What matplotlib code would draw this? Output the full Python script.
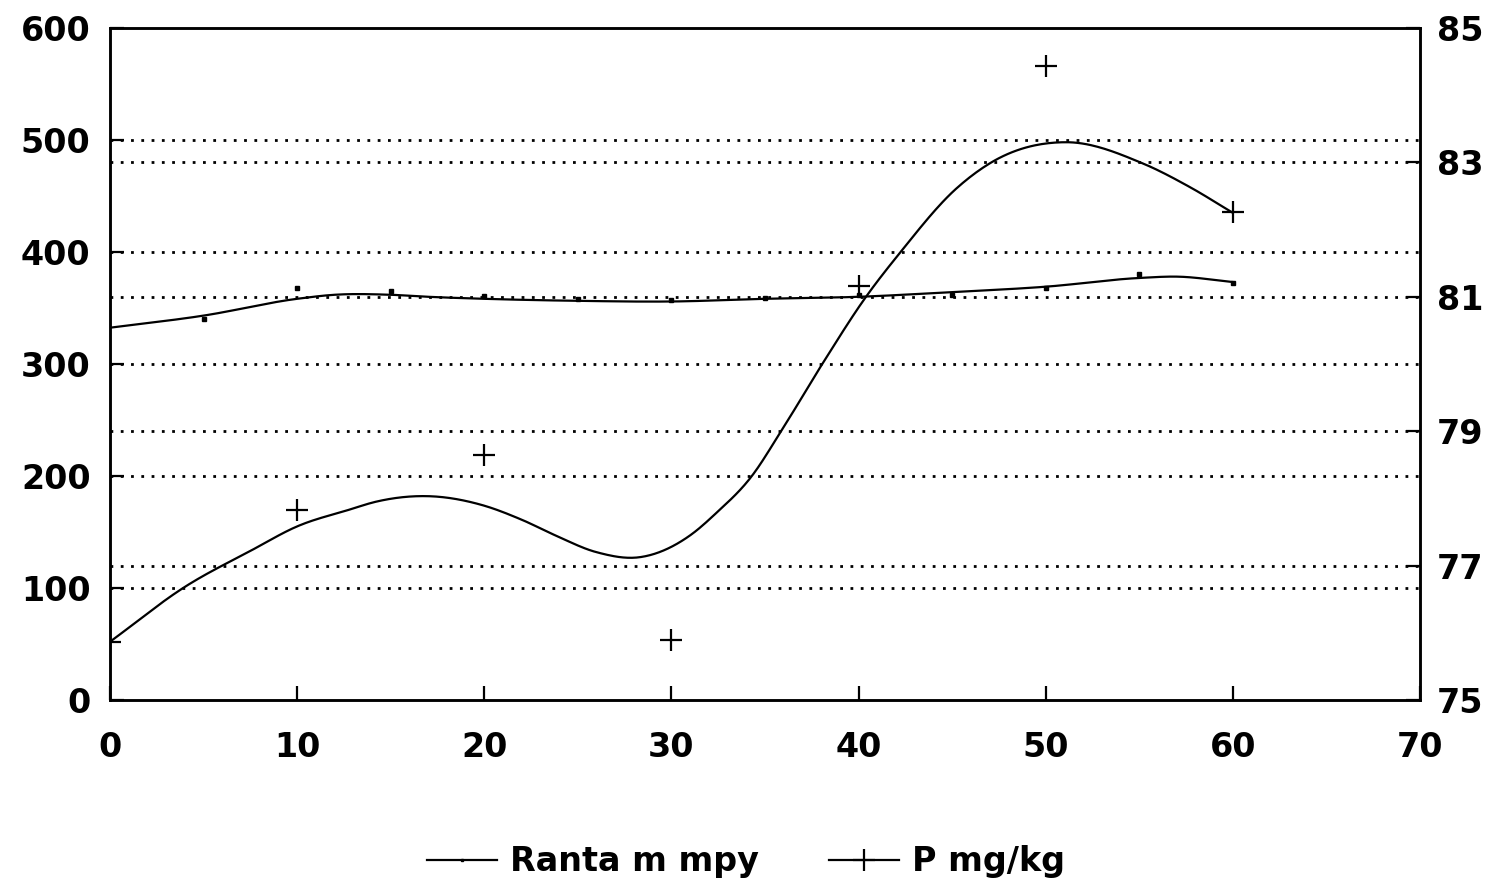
import numpy as np
import matplotlib.pyplot as plt
from matplotlib.lines import Line2D

# measured P values (left axis)
p_x = [0, 10, 20, 30, 40, 50, 60]
p_val = [52, 170, 219, 54, 370, 566, 436]

# smoothed P curve
p_curve_x = [0, 4, 7.6, 10, 12.8, 14.2, 17, 19.9, 22, 23.8, 26, 28.3, 31, 32.4, 34.3, 35.9, 38.1, 40.4, 42.2, 45.25, 47, 51.1, 55.2, 57.7, 60]
p_curve_y = [52, 101, 134, 155, 170, 177, 182, 174, 161, 147, 132, 127.5, 147, 167, 200, 241, 301, 360, 399, 457, 479, 498, 479, 458, 435]

# shore level (right axis)
ranta_x = [5, 10, 15, 20, 25, 30, 35, 40, 45, 50, 55, 60]
ranta_val = [80.67, 81.13, 81.08, 81.01, 80.97, 80.95, 80.98, 81.03, 81.03, 81.13, 81.34, 81.2]

ranta_curve_x = [0, 5, 10, 12, 15, 17, 20, 25, 30, 35, 40, 45, 50, 55, 57, 60]
ranta_curve_y = [80.54, 80.72, 80.97, 81.03, 81.03, 81.0, 80.97, 80.94, 80.93, 80.97, 81.0, 81.07, 81.15, 81.28, 81.3, 81.22]

left_ticks = [0, 100, 200, 300, 400, 500, 600]
right_ticks = [75, 77, 79, 81, 83, 85]
x_ticks = [0, 10, 20, 30, 40, 50, 60, 70]


def smooth(xs, ys, n=500):
    # cubic hermite through the read points
    xs = np.asarray(xs, float)
    ys = np.asarray(ys, float)
    m = np.gradient(ys, xs)
    xx = np.linspace(xs[0], xs[-1], n)
    idx = np.clip(np.searchsorted(xs, xx) - 1, 0, len(xs) - 2)
    h = xs[idx + 1] - xs[idx]
    t = (xx - xs[idx]) / h
    h00 = 2 * t**3 - 3 * t**2 + 1
    h10 = t**3 - 2 * t**2 + t
    h01 = -2 * t**3 + 3 * t**2
    h11 = t**3 - t**2
    yy = h00 * ys[idx] + h10 * h * m[idx] + h01 * ys[idx + 1] + h11 * h * m[idx + 1]
    return xx, yy


plt.rcParams['font.family'] = ['DejaVu Sans']
plt.rcParams['font.weight'] = 'bold'

fig = plt.figure(figsize=(14.92, 8.85), dpi=100)
ax = fig.add_axes([0.0737, 0.209, 0.878, 0.7594])
ax2 = ax.twinx()

dots = (0, (1, 2.7))
for y in left_ticks[1:-1]:
    ax.axhline(y, color='black', lw=2, ls=dots, zorder=1)
for y in right_ticks[1:-1]:
    ax2.axhline(y, color='black', lw=2, ls=dots, zorder=1)

cx, cy = smooth(p_curve_x, p_curve_y)
ax.plot(cx, cy, color='black', lw=1.6)
ax.plot(p_x, p_val, ls='none', marker='+', ms=16, mew=1.6, color='black')

rx, ry = smooth(ranta_curve_x, ranta_curve_y)
ax2.plot(rx, ry, color='black', lw=1.6)
ax2.plot(ranta_x, ranta_val, ls='none', marker='s', ms=3, color='black')

ax.set_xlim(0, 70)
ax.set_ylim(0, 600)
ax2.set_ylim(75, 85)
ax.set_xticks(x_ticks)
ax.set_yticks(left_ticks)
ax2.set_yticks(right_ticks)

for a in (ax, ax2):
    for s in a.spines.values():
        s.set_linewidth(1.8)
ax.tick_params(axis='both', direction='in', length=10, width=1.6, labelsize=24, pad=14)
ax.tick_params(axis='x', pad=22)
ax2.tick_params(axis='y', direction='in', length=10, width=1.6, labelsize=24, pad=12)

handles = [
    Line2D([], [], color='black', lw=1.6, marker='s', ms=2),
    Line2D([], [], color='black', lw=1.6, marker='+', ms=16, mew=1.6),
]
fig.legend(handles, ['Ranta m mpy', 'P mg/kg'], loc='center', bbox_to_anchor=(0.5, 0.026),
           ncol=2, frameon=False, fontsize=24, handlelength=2.1, columnspacing=2.1, handletextpad=0.4)

fig.savefig('out.png', dpi=100)
